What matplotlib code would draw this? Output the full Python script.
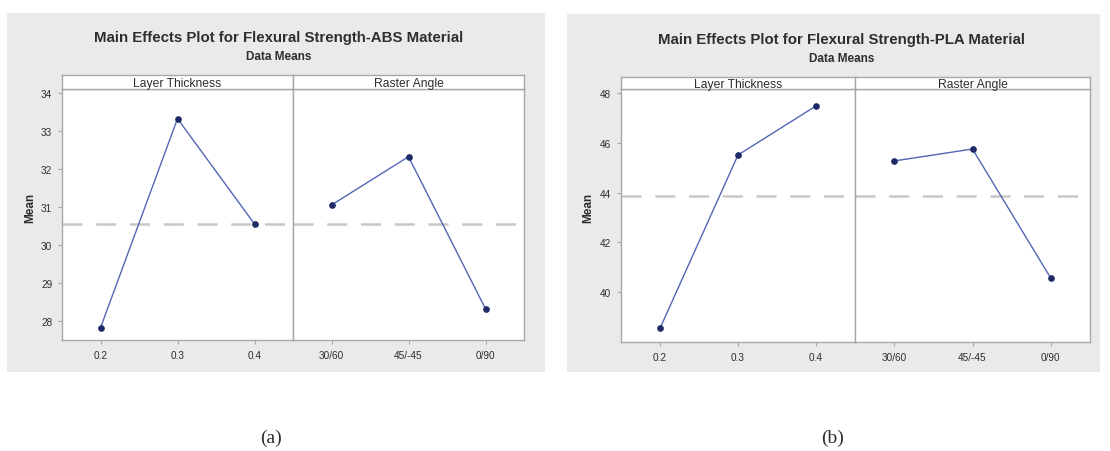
import matplotlib
matplotlib.use("Agg")
import matplotlib.pyplot as plt
import numpy as np

# ---- data ----
layer_labels = ['0.2', '0.3', '0.4']
raster_labels = ['30/60', '45/-45', '0/90']
factor_names = ['Layer Thickness', 'Raster Angle']

abs_layer = [27.82, 33.32, 30.55]
abs_raster = [31.05, 32.32, 28.32]
pla_layer = [38.55, 45.51, 47.48]
pla_raster = [45.27, 45.75, 40.56]

abs_yticks = [28, 29, 30, 31, 32, 33, 34]
pla_yticks = [40, 42, 44, 46, 48]

titles = ['Main Effects Plot for Flexural Strength-ABS Material',
          'Main Effects Plot for Flexural Strength-PLA Material']
subtitle = 'Data Means'
captions = ['(a)', '(b)']

W, H = 1110, 452
fig = plt.figure(figsize=(W / 100, H / 100), dpi=100)
fig.patch.set_facecolor('white')

def fx(x):
    return x / W

def fy(y):
    return 1 - y / H

def box(x0, y0, x1, y1):
    return [fx(x0), fy(y1), fx(x1) - fx(x0), fy(y0) - fy(y1)]

GRAY_BG = '#eaeaea'
FRAME = '#a8a8a8'
LINE = '#5466b5'
MARK = '#1e2a66'
TXT = '#2e2e2e'
FONT = 'Liberation Sans'

panels = [
    dict(bg=(7, 14, 545, 373), ax=(62, 293, 524), top=90, bottom=341, strip=76,
         data=[abs_layer, abs_raster], ylim=(27.5, 34.1), yticks=abs_yticks,
         title_x=279, title_y=38, sub_y=57, ylab_x=30, cap_x=271),
    dict(bg=(567, 15, 1100, 373), ax=(621, 855, 1090), top=90, bottom=343, strip=78,
         data=[pla_layer, pla_raster], ylim=(38.0, 48.16), yticks=pla_yticks,
         title_x=842, title_y=40, sub_y=59, ylab_x=588, cap_x=833),
]

for p, title, cap in zip(panels, titles, captions):
    x0, y0, x1, y1 = p['bg']
    bg = fig.add_axes(box(x0, y0, x1, y1), zorder=-5)
    bg.set_facecolor(GRAY_BG)
    bg.set_xticks([])
    bg.set_yticks([])
    for s in bg.spines.values():
        s.set_visible(False)
    fig.text(fx(p['title_x']), fy(p['title_y']), title, ha='center', va='center',
             fontsize=10.8, fontweight='bold', color=TXT, family=FONT)
    fig.text(fx(p['title_x']), fy(p['sub_y']), subtitle, ha='center', va='center',
             fontsize=8.5, fontweight='bold', color=TXT, family=FONT)
    fig.text(fx(p['cap_x']), fy(438), cap, ha='center', va='center',
             fontsize=14, color=TXT, family='Liberation Serif')

    xl, xm, xr = p['ax']
    mean_val = np.mean(p['data'][0] + p['data'][1])
    edges = [(xl, xm), (xm, xr)]
    for i, ((a, b), vals, labs, name) in enumerate(zip(edges, p['data'],
                                                        [layer_labels, raster_labels],
                                                        factor_names)):
        ax = fig.add_axes(box(a, p['top'], b, p['bottom']))
        ax.set_facecolor('white')
        xs = np.arange(len(vals))
        ax.axhline(mean_val, color='#c8c8c8', lw=1.8, ls=(0, (8, 5.5)), zorder=1)
        ax.plot(xs, vals, color=LINE, lw=1.0, zorder=2)
        ax.plot(xs, vals, 'o', color=MARK, ms=3.8, zorder=3)
        ax.set_xlim(-0.5, 2.5)
        ax.set_ylim(*p['ylim'])
        ax.set_xticks(xs)
        ax.set_xticklabels(labs, fontsize=7.2, color=TXT, family=FONT)
        for s in ax.spines.values():
            s.set_color(FRAME)
            s.set_linewidth(1.0)
        ax.tick_params(axis='both', colors=FRAME, length=3, width=0.8,
                       labelcolor=TXT, pad=4)
        if i == 0:
            ax.set_yticks(p['yticks'])
            ax.set_yticklabels([str(t) for t in p['yticks']], fontsize=7.2,
                               color=TXT, family=FONT)
        else:
            ax.set_yticks([])
        # strip
        sax = fig.add_axes(box(a, p['strip'], b, p['top']))
        sax.set_facecolor('white')
        sax.set_xticks([])
        sax.set_yticks([])
        for s in sax.spines.values():
            s.set_color(FRAME)
            s.set_linewidth(1.0)
        sax.text(0.5, 0.45, name, transform=sax.transAxes, ha='center', va='center',
                 fontsize=8.7, color=TXT, family=FONT)
    fig.text(fx(p['ylab_x']), fy(208), 'Mean',
             rotation=90, ha='center', va='center', fontsize=8.5,
             fontweight='bold', color=TXT, family=FONT)

fig.savefig('out.png', dpi=100, facecolor='white')
